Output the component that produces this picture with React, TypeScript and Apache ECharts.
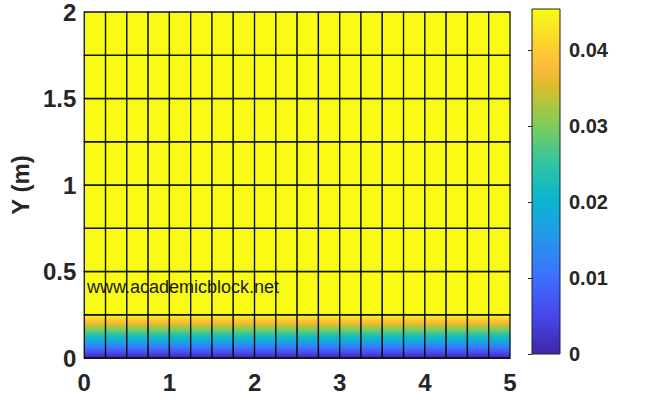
import React, { useEffect, useRef } from 'react';
import * as echarts from 'echarts';

// ---- data ----
const xNodes = [0, 0.25, 0.5, 0.75, 1, 1.25, 1.5, 1.75, 2, 2.25, 2.5, 2.75, 3, 3.25, 3.5, 3.75, 4, 4.25, 4.5, 4.75, 5];
const yNodes = [0, 0.25, 0.5, 0.75, 1, 1.25, 1.5, 1.75, 2];
const nodeValues = [0, 0.0454, 0.0454, 0.0454, 0.0454, 0.0454, 0.0454, 0.0454, 0.0454];
const xTicks = [0, 1, 2, 3, 4, 5];
const yTicks = [0, 0.5, 1, 1.5, 2];
const cbarTicks = [0, 0.01, 0.02, 0.03, 0.04];
const cMin = 0;
const cMax = 0.0454;
const yName = 'Y (m)';
const watermark = 'www.academicblock.net';

// parula colormap key stops [offset, r, g, b]
const PARULA: number[][] = [
  [0.0, 62, 38, 168],
  [0.111, 71, 71, 235],
  [0.222, 62, 111, 255],
  [0.333, 39, 150, 235],
  [0.444, 8, 181, 208],
  [0.556, 49, 198, 159],
  [0.667, 129, 204, 89],
  [0.778, 220, 189, 41],
  [0.83, 252, 187, 61],
  [0.889, 252, 207, 48],
  [1.0, 249, 251, 21],
];

function parula(t: number) {
  const tt = Math.max(0, Math.min(1, t));
  let i = 0;
  while (i < PARULA.length - 2 && tt > PARULA[i + 1][0]) i++;
  const a = PARULA[i], b = PARULA[i + 1];
  const r = (tt - a[0]) / (b[0] - a[0]);
  const c = [1, 2, 3].map((k) => Math.round(a[k] + (b[k] - a[k]) * r));
  return `rgb(${c[0]},${c[1]},${c[2]})`;
}
const norm = (v: number) => (v - cMin) / (cMax - cMin);

function gradient(vTop: number, vBottom: number) {
  const stops = [];
  const N = 40;
  for (let k = 0; k <= N; k++) {
    const t = k / N;
    const v = vTop + (vBottom - vTop) * t;
    stops.push({ offset: t, color: parula(norm(v)) });
  }
  return { type: 'linear', x: 0, y: 0, x2: 0, y2: 1, colorStops: stops };
}

const FONT = '"Liberation Sans", Arial, sans-serif';
const TXT = '#262626';

export default function App() {
  const ref = useRef<HTMLDivElement>(null);
  useEffect(() => {
    if (!ref.current) return;
    const chart = echarts.init(ref.current, null, { renderer: 'svg' });

    const cells: number[][] = [];
    for (let i = 0; i < xNodes.length - 1; i++) {
      for (let j = 0; j < yNodes.length - 1; j++) {
        cells.push([xNodes[i], yNodes[j], xNodes[i + 1], yNodes[j + 1], nodeValues[j], nodeValues[j + 1]]);
      }
    }

    const option: any = {
      animation: false,
      backgroundColor: '#ffffff',
      grid: [
        { left: 80, top: 7, width: 430, height: 351 },
        { left: 532, top: 9, width: 28, height: 345 },
      ],
      xAxis: [
        {
          gridIndex: 0, type: 'value', min: xTicks[0], max: xTicks[xTicks.length - 1], interval: 1,
          axisLine: { show: true, lineStyle: { color: TXT } },
          axisTick: { show: false },
          splitLine: { show: false },
          axisLabel: { color: TXT, fontSize: 24, fontWeight: 'bold', fontFamily: FONT, margin: 12 },
        },
        { gridIndex: 1, type: 'value', min: 0, max: 1, show: false },
      ],
      yAxis: [
        {
          gridIndex: 0, type: 'value', min: yTicks[0], max: yTicks[yTicks.length - 1], interval: 0.5,
          name: yName, nameLocation: 'middle', nameGap: 48,
          nameTextStyle: { color: TXT, fontSize: 24, fontWeight: 'bold', fontFamily: FONT },
          axisLine: { show: true, lineStyle: { color: TXT } },
          axisTick: { show: false },
          splitLine: { show: false },
          axisLabel: { color: TXT, fontSize: 24, fontWeight: 'bold', fontFamily: FONT, margin: 8 },
        },
        {
          gridIndex: 1, type: 'value', position: 'right', min: cMin, max: cMax, interval: 0.01,
          axisLine: { show: false },
          axisTick: { show: true, inside: true, length: 4, lineStyle: { color: TXT } },
          splitLine: { show: false },
          axisLabel: {
            color: TXT, fontSize: 20, fontWeight: 'bold', fontFamily: FONT, margin: 9,
            showMaxLabel: false,
            formatter: (v: number) => {
              const m = cbarTicks.find((t) => Math.abs(t - v) < 1e-9);
              return m === undefined ? '' : String(m);
            },
          },
        },
      ],
      graphic: [
        {
          type: 'text', left: 87, top: 278, z: 100,
          style: { text: watermark, font: `18px ${FONT}`, fill: '#1a1a1a' },
        },
      ],
      series: [
        {
          type: 'custom',
          xAxisIndex: 0, yAxisIndex: 0,
          data: cells,
          encode: { x: [0, 2], y: [1, 3] },
          renderItem: (_p: any, api: any) => {
            const x0 = api.value(0), y0 = api.value(1), x1 = api.value(2), y1 = api.value(3);
            const v0 = api.value(4), v1 = api.value(5);
            const tl = api.coord([x0, y1]);
            const br = api.coord([x1, y0]);
            const fill = v0 === v1 ? parula(norm(v0)) : gradient(v1, v0);
            return {
              type: 'rect',
              shape: { x: tl[0], y: tl[1], width: br[0] - tl[0], height: br[1] - tl[1] },
              style: { fill, stroke: '#111', lineWidth: 1.3 },
            };
          },
        },
        {
          type: 'custom',
          xAxisIndex: 1, yAxisIndex: 1,
          data: [[0, cMin, 1, cMax]],
          encode: { x: [0, 2], y: [1, 3] },
          renderItem: (_p: any, api: any) => {
            const tl = api.coord([api.value(0), api.value(3)]);
            const br = api.coord([api.value(2), api.value(1)]);
            return {
              type: 'rect',
              shape: { x: tl[0], y: tl[1], width: br[0] - tl[0], height: br[1] - tl[1] },
              style: { fill: gradient(api.value(3), api.value(1)), stroke: '#222', lineWidth: 1 },
            };
          },
        },
      ],
    };
    chart.setOption(option);
    return () => chart.dispose();
  }, []);
  return (
    <div
      ref={ref}
      style={{ position: 'fixed', left: 0, top: 0, width: 650, height: 400, background: '#fff' }}
    />
  );
}
